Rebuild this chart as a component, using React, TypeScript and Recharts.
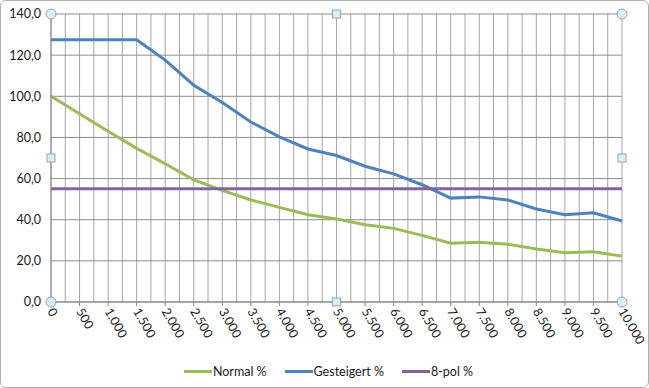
import React from 'react';
import { LineChart, Line, XAxis, YAxis, CartesianGrid, ReferenceDot, Legend } from 'recharts';

const rpm = [0, 500, 1000, 1500, 2000, 2500, 3000, 3500, 4000, 4500, 5000, 5500, 6000, 6500, 7000, 7500, 8000, 8500, 9000, 9500, 10000];
const normal = [100, 91.5, 83, 74.7, 67.2, 59.4, 54.3, 49.6, 46, 42.4, 40.4, 37.6, 35.8, 32.4, 28.6, 29.1, 28.1, 25.8, 23.9, 24.4, 22.3];
const gesteigert = [127.5, 127.5, 127.5, 127.5, 117.6, 105.4, 97, 87.5, 80.3, 74.4, 71.2, 66, 62.3, 57, 50.5, 51.1, 49.6, 45.2, 42.4, 43.4, 39.4];
const achtPol = [55, 55, 55, 55, 55, 55, 55, 55, 55, 55, 55, 55, 55, 55, 55, 55, 55, 55, 55, 55, 55];
const yTicks = [0, 20, 40, 60, 80, 100, 120, 140];
const minorTicks = [0, 250, 500, 750, 1000, 1250, 1500, 1750, 2000, 2250, 2500, 2750, 3000, 3250, 3500, 3750, 4000, 4250, 4500, 4750, 5000, 5250, 5500, 5750, 6000, 6250, 6500, 6750, 7000, 7250, 7500, 7750, 8000, 8250, 8500, 8750, 9000, 9250, 9500, 9750, 10000];
const seriesNames = ['Normal %', 'Gesteigert %', '8-pol %'];
const colors = ['#9BBB59', '#4F81BD', '#8064A2'];

const data = rpm.map((r, i) => ({ rpm: r, normal: normal[i], gesteigert: gesteigert[i], achtPol: achtPol[i] }));

const FONT = 'Lato, "Open Sans", sans-serif';

const fmtX = (v: number) => (v >= 1000 ? `${Math.floor(v / 1000)}.${String(v % 1000).padStart(3, '0')}` : String(v));
const fmtY = (v: number) => v.toFixed(1).replace('.', ',');

const XTick = (props: any) => {
  const { x, y, payload } = props;
  return (
    <text x={x} y={y} transform={`rotate(60 ${x} ${y})`} textAnchor="start" dominantBaseline="central" fill="#1a1a1a" fontSize={12.5} fontFamily={FONT}>
      {fmtX(payload.value)}
    </text>
  );
};

const circleHandle = (p: any) => (
  <circle cx={p.cx} cy={p.cy} r={5} fill="#dcecf3" stroke="#8aa9ba" strokeWidth={1} />
);
const squareHandle = (p: any) => (
  <rect x={p.cx - 4} y={p.cy - 4} width={8} height={8} fill="#dcecf3" stroke="#8aa9ba" strokeWidth={1} />
);

const LegendContent = () => (
  <div style={{ display: 'flex', justifyContent: 'center', alignItems: 'center', fontFamily: FONT, fontSize: 12.5, color: '#1a1a1a', paddingLeft: 8, height: 16 }}>
    {seriesNames.map((n, i) => (
      <div key={n} style={{ display: 'flex', alignItems: 'center', marginRight: i < 2 ? 18 : 0 }}>
        <div style={{ width: 28, height: 3, background: colors[i], marginRight: 1 }} />
        <span>{n}</span>
      </div>
    ))}
  </div>
);

export default function App() {
  return (
    <div style={{ position: 'absolute', left: 0, top: 0, width: 649, height: 388, background: '#fff' }}>
      <div style={{ position: 'absolute', left: 0, top: 0, width: 649, height: 388, boxSizing: 'border-box', border: '1px solid #b0b0b0', borderRadius: 6, pointerEvents: 'none' }} />
      <LineChart width={649} height={388} data={data} margin={{ top: 14, right: 27, bottom: 10, left: 0 }}>
        <XAxis xAxisId="minor" dataKey="rpm" type="number" domain={[0, 10000]} ticks={minorTicks} interval={0} hide />
        <CartesianGrid xAxisId="minor" horizontal={false} stroke="#a6a6a6" strokeWidth={1} />
        <CartesianGrid xAxisId="main" vertical={false} stroke="#8c8c8c" strokeWidth={1} />
        <XAxis
          xAxisId="main"
          dataKey="rpm"
          type="number"
          domain={[0, 10000]}
          ticks={rpm}
          interval={0}
          stroke="#868686"
          tickSize={4}
          tickMargin={3}
          tick={<XTick />}
          height={60}
        />
        <YAxis
          type="number"
          domain={[0, 140]}
          ticks={yTicks}
          interval={0}
          width={51}
          stroke="#868686"
          tickLine={false}
          tickSize={4}
          tickMargin={6}
          tickFormatter={fmtY}
          tick={{ fill: '#1a1a1a', fontSize: 12.5, fontFamily: FONT }}
        />
        <Line xAxisId="main" type="linear" dataKey="normal" name={seriesNames[0]} stroke={colors[0]} strokeWidth={3} dot={false} isAnimationActive={false} />
        <Line xAxisId="main" type="linear" dataKey="gesteigert" name={seriesNames[1]} stroke={colors[1]} strokeWidth={3} dot={false} isAnimationActive={false} />
        <Line xAxisId="main" type="linear" dataKey="achtPol" name={seriesNames[2]} stroke={colors[2]} strokeWidth={3} dot={false} isAnimationActive={false} />
        <ReferenceDot xAxisId="main" x={0} y={140} shape={circleHandle} ifOverflow="visible" />
        <ReferenceDot xAxisId="main" x={10000} y={140} shape={circleHandle} ifOverflow="visible" />
        <ReferenceDot xAxisId="main" x={0} y={0} shape={circleHandle} ifOverflow="visible" />
        <ReferenceDot xAxisId="main" x={10000} y={0} shape={circleHandle} ifOverflow="visible" />
        <ReferenceDot xAxisId="main" x={5000} y={140} shape={squareHandle} ifOverflow="visible" />
        <ReferenceDot xAxisId="main" x={5000} y={0} shape={squareHandle} ifOverflow="visible" />
        <ReferenceDot xAxisId="main" x={0} y={70} shape={squareHandle} ifOverflow="visible" />
        <ReferenceDot xAxisId="main" x={10000} y={70} shape={squareHandle} ifOverflow="visible" />
        <Legend content={<LegendContent />} wrapperStyle={{ position: 'absolute', top: 363, left: 0, width: 649, height: 16 }} />
      </LineChart>
    </div>
  );
}
